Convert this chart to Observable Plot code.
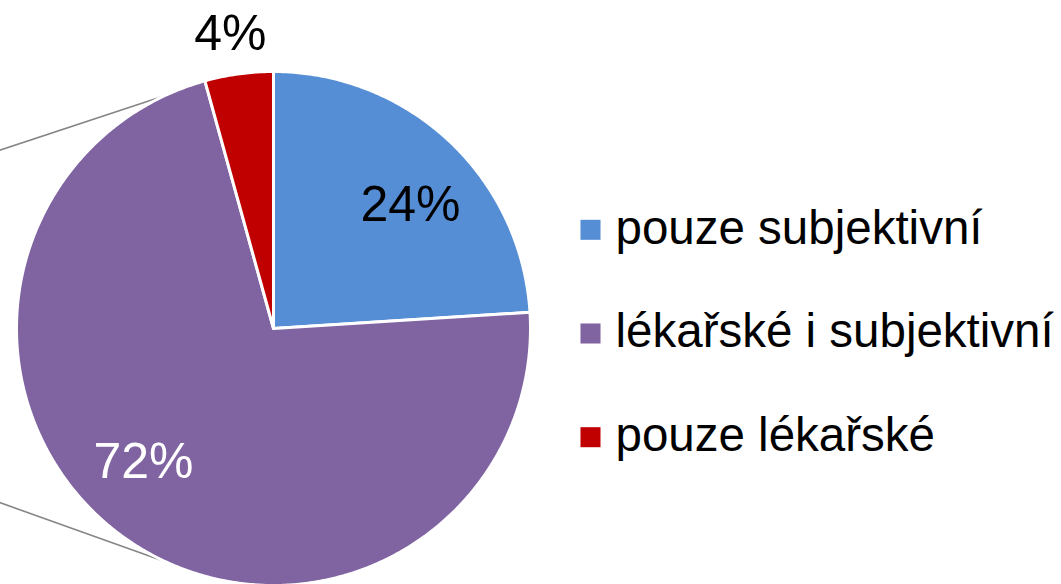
<!DOCTYPE html>
<html><head><meta charset="utf-8">
<script src="https://cdn.jsdelivr.net/npm/d3@7"></script>
<script src="https://cdn.jsdelivr.net/npm/@observablehq/plot@0.6"></script>
<style>html,body{margin:0;padding:0;background:#fff;overflow:hidden}</style>
</head><body><div id="chart"></div>
<script>
// ---- data ----
const categories = ["pouze subjektivní", "lékařské i subjektivní", "pouze lékařské"];
const shares = [24, 71.7, 4.3];
const shareLabels = ["24%", "72%", "4%"];
const colors = ["#558ED5", "#8064A2", "#C00000"];
const labelColors = ["#000000", "#ffffff", "#000000"];

// ---- layout ----
const W = 1061, H = 584, CX = 273, CY = 328, R = 257;
const px2x = p => (p - CX) / R;
const py2y = p => (CY - p) / R;
// label placement (angle tweak in degrees, radius as share of pie radius)
const labelAngleShift = [4.8, 8.74, -0.61];
const labelRadius = [0.717, 0.726, 1.157];
// pie-of-pie connector lines: angle on pie, slope toward the left (data units)
const connectorAngles = [335.1, 204.7];
const connectorSlopes = [0.331, -0.357];

const rad = a => a * Math.PI / 180;
const polar = (a, r) => ({x: r * Math.sin(rad(a)), y: r * Math.cos(rad(a))});

const total = d3.sum(shares);
let acc = 0;
const slices = shares.map((v, i) => {
  const a0 = acc / total * 360; acc += v; const a1 = acc / total * 360;
  return {i, a0, a1, mid: (a0 + a1) / 2};
});

const slicePts = slices.flatMap(s => {
  const pts = [{slice: categories[s.i], color: colors[s.i], x: 0, y: 0}];
  const n = Math.max(2, Math.ceil((s.a1 - s.a0) / 0.5));
  for (let k = 0; k <= n; k++) {
    const a = s.a0 + (s.a1 - s.a0) * k / n;
    pts.push({slice: categories[s.i], color: colors[s.i], ...polar(a, 1)});
  }
  return pts;
});

const labels = slices.map(s => ({
  text: shareLabels[s.i], color: labelColors[s.i],
  ...polar(s.mid + labelAngleShift[s.i], labelRadius[s.i])
}));

const connectors = connectorAngles.map((a, i) => {
  const p = polar(a, 1);
  const xl = -1.4;
  return {x1: p.x, y1: p.y, x2: xl, y2: p.y + connectorSlopes[i] * (xl - p.x)};
});

const legendTop = 229.3, legendStep = 103.7;
const legend = categories.map((c, i) => ({
  name: c, color: colors[i],
  xs: px2x(590), xt: px2x(615), y: py2y(legendTop + i * legendStep)
}));

const font = "'Liberation Sans', Arial, sans-serif";

const chart = Plot.plot({
  width: W, height: H, margin: 0,
  x: {domain: [px2x(0), px2x(W)], axis: null},
  y: {domain: [py2y(H), py2y(0)], axis: null},
  color: {type: "identity"},
  style: {fontFamily: font, background: "#fff"},
  marks: [
    Plot.link(connectors, {x1: "x1", y1: "y1", x2: "x2", y2: "y2", stroke: "#868686", strokeWidth: 1.6}),
    Plot.line(slicePts, {x: "x", y: "y", z: "slice", fill: "color", stroke: "#ffffff", strokeWidth: 3, curve: "linear-closed"}),
    Plot.text(labels, {x: "x", y: "y", text: "text", fill: "color", fontSize: 50, fontFamily: font}),
    Plot.dot(legend, {x: "xs", y: "y", symbol: "square", r: 11.3, fill: "color", stroke: null}),
    Plot.text(legend, {x: "xt", y: "y", text: "name", textAnchor: "start", fill: "#000000", fontSize: 47.5, fontFamily: font, dy: -1.5})
  ]
});
document.getElementById("chart").appendChild(chart);
</script>
</body></html>
